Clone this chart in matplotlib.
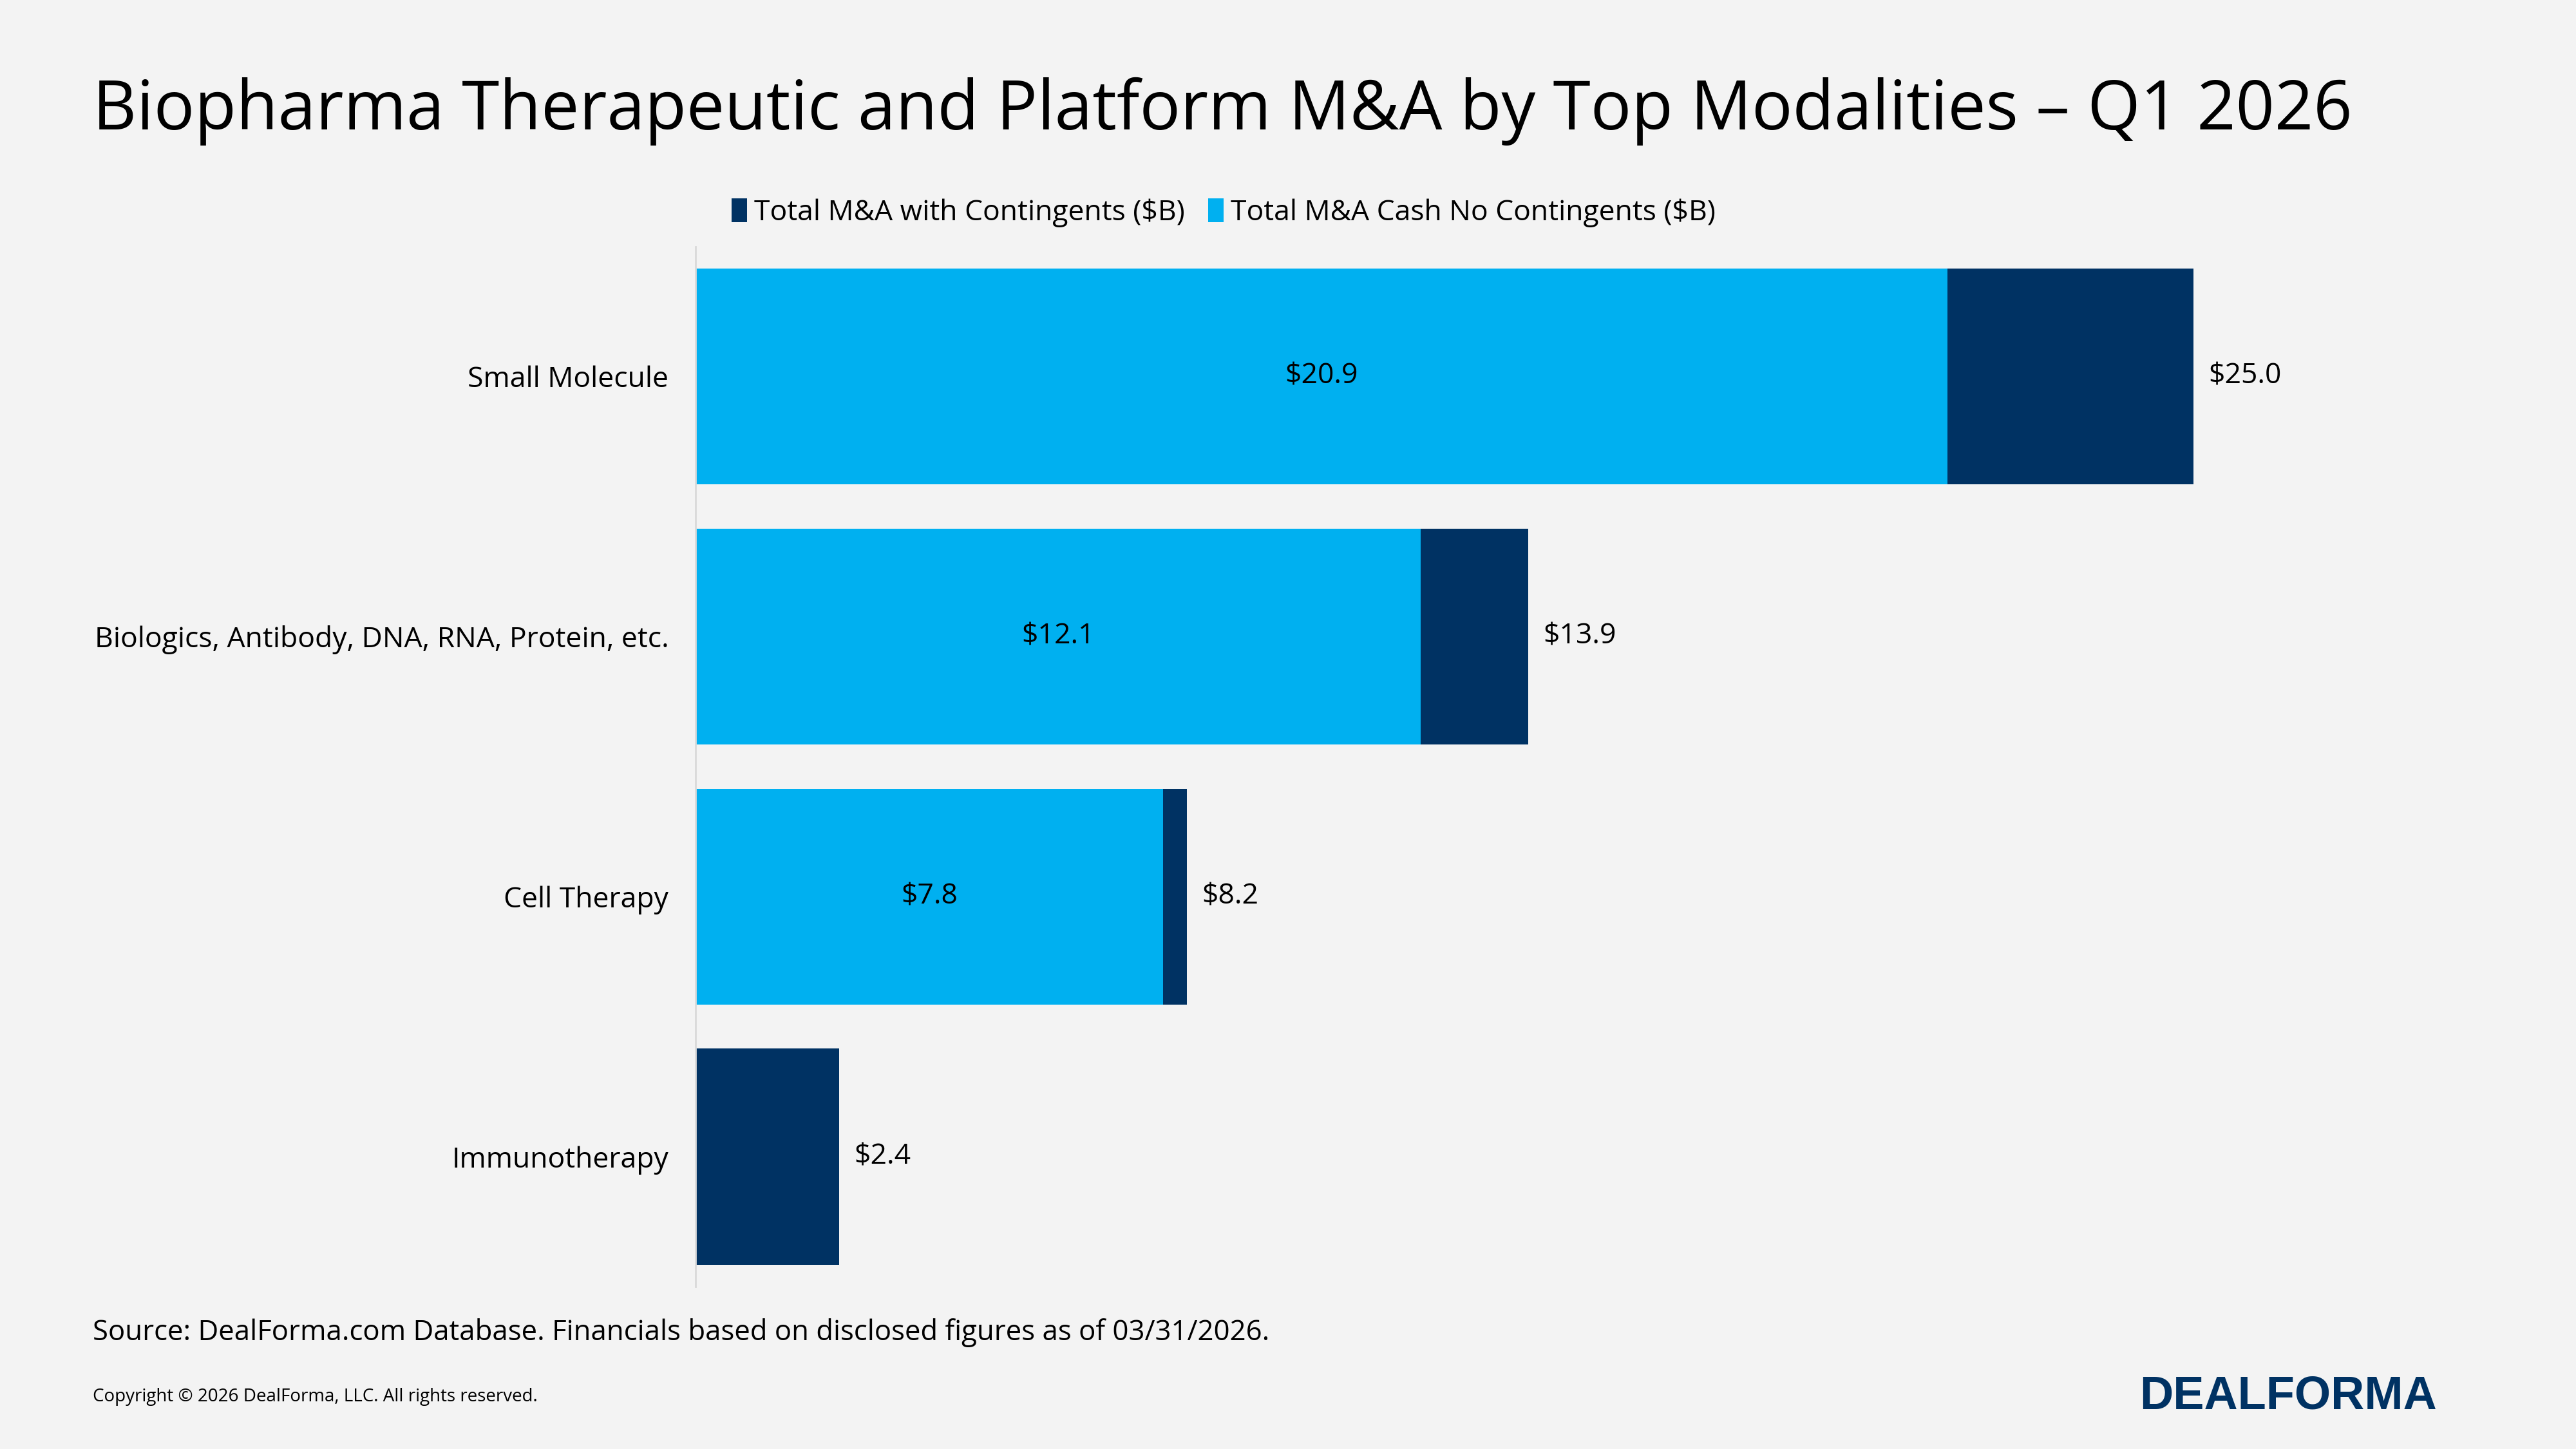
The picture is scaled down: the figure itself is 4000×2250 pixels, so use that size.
import matplotlib.pyplot as plt

categories = ["Small Molecule", "Biologics, Antibody, DNA, RNA, Protein, etc.",
              "Cell Therapy", "Immunotherapy"]
total_with_contingents = [25.0, 13.9, 8.2, 2.4]
cash_no_contingents = [20.9, 12.1, 7.8, 0.0]

DARK = "#003263"
LIGHT = "#00B0F0"
BG = "#F3F3F3"

plt.rcParams['font.family'] = ['Open Sans', 'DejaVu Sans']

fig = plt.figure(figsize=(40, 22.5), dpi=100, facecolor=BG)
ax = fig.add_axes([0.27, 0.112, 0.70, 0.718], facecolor=BG)

y = list(range(len(categories)))
ax.barh(y, total_with_contingents, height=0.83, color=DARK, label="Total M&A with Contingents ($B)")
ax.barh(y, cash_no_contingents, height=0.83, color=LIGHT, label="Total M&A Cash No Contingents ($B)")

for i, (t, c) in enumerate(zip(total_with_contingents, cash_no_contingents)):
    ax.text(t + 0.25, i, f"${t:.1f}", va="center", ha="left", fontsize=32)
    if c > 0:
        ax.text(c / 2, i, f"${c:.1f}", va="center", ha="center", fontsize=32)

ax.set_xlim(0, 30.1)
ax.set_ylim(len(categories) - 0.5, -0.5)
ax.set_yticks(y)
ax.set_yticklabels(categories, fontsize=32)
ax.tick_params(axis="y", length=0, pad=30)
ax.set_xticks([])
for s in ["top", "right", "bottom"]:
    ax.spines[s].set_visible(False)
ax.spines["left"].set_color("#D9D9D9")
ax.spines["left"].set_linewidth(2)

handles, labels = ax.get_legend_handles_labels()
fig.legend(handles, labels, loc="center", bbox_to_anchor=(0.475, 0.853), ncol=2,
           frameon=False, fontsize=32, handlelength=0.55, handleheight=0.9,
           handletextpad=0.25, columnspacing=0.8)

fig.text(0.036, 0.923, "Biopharma Therapeutic and Platform M&A by Top Modalities \u2013 Q1 2026",
         fontsize=76, va="center", ha="left")
fig.text(0.036, 0.080, "Source: DealForma.com Database. Financials based on disclosed figures as of 03/31/2026.",
         fontsize=31.5, va="center", ha="left")
fig.text(0.036, 0.036, "Copyright \u00a9 2026 DealForma, LLC. All rights reserved.",
         fontsize=20, va="center", ha="left")
fig.text(0.946, 0.036, "DEALFORMA", fontsize=52, fontweight="bold", color=DARK,
         va="center", ha="right", family="Liberation Sans")

fig.savefig("out.png", facecolor=BG)
